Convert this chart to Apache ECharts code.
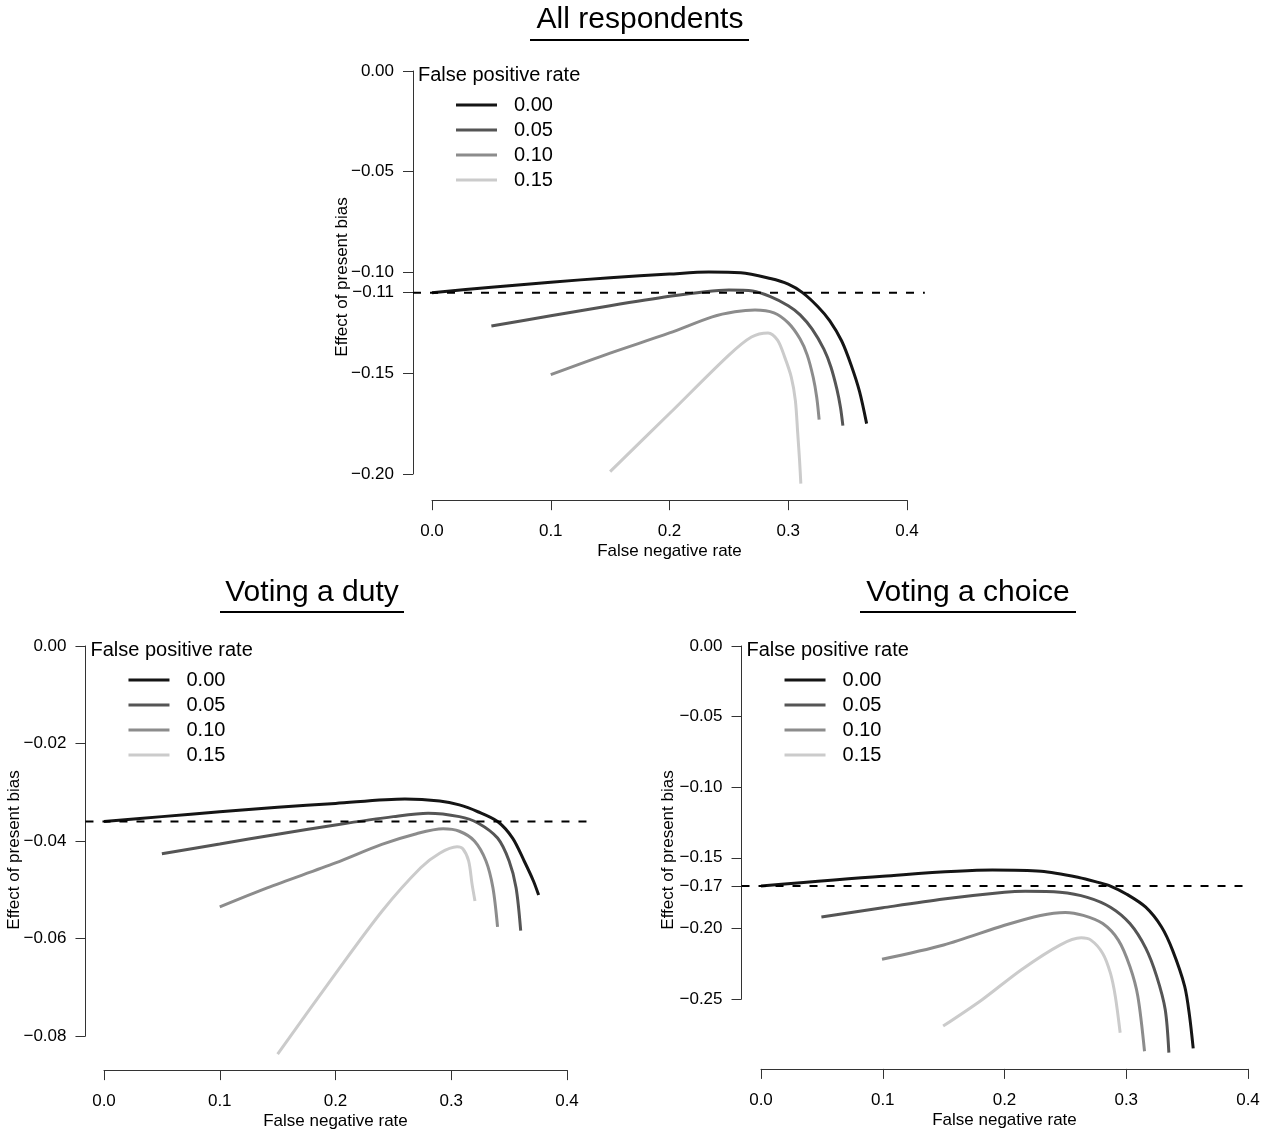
<!DOCTYPE html>
<html>
<head>
<meta charset="utf-8">
<script src="https://cdn.jsdelivr.net/npm/echarts@6/dist/echarts.min.js"></script>
<style>
  html, body { margin: 0; padding: 0; background: #fff; }
  #main { width: 1263px; height: 1133px; }
</style>
</head>
<body>
<div id="main"></div>
<script>
// legend levels (false positive rate)
var fpr = ['0.00', '0.05', '0.10', '0.15'];
var greys = ['#151515', '#555555', '#8c8c8c', '#cbcbcb'];

// --- All respondents ---
var allX0 = [0, 0.05, 0.10, 0.15, 0.20, 0.233, 0.26, 0.285, 0.30, 0.312, 0.325, 0.335, 0.345, 0.353, 0.36, 0.366];
var allY0 = [-0.110, -0.1073, -0.1048, -0.1026, -0.1008, -0.0998, -0.1001, -0.103, -0.1058, -0.110, -0.117, -0.124, -0.134, -0.146, -0.159, -0.175];
var allX1 = [0.05, 0.10, 0.15, 0.20, 0.23, 0.25, 0.27, 0.285, 0.30, 0.31, 0.32, 0.33, 0.336, 0.341, 0.344, 0.346];
var allY1 = [-0.1265, -0.1215, -0.1165, -0.1118, -0.1095, -0.1087, -0.1092, -0.112, -0.1165, -0.121, -0.128, -0.138, -0.147, -0.158, -0.167, -0.176];
var allX2 = [0.10, 0.15, 0.20, 0.236, 0.255, 0.272, 0.288, 0.30, 0.31, 0.316, 0.321, 0.324, 0.326];
var allY2 = [-0.1507, -0.140, -0.130, -0.122, -0.1195, -0.1186, -0.120, -0.125, -0.133, -0.141, -0.152, -0.162, -0.173];
var allX3 = [0.15, 0.20, 0.25, 0.269, 0.283, 0.291, 0.297, 0.3026, 0.306, 0.308, 0.3095, 0.3106];
var allY3 = [-0.1988, -0.170, -0.141, -0.132, -0.130, -0.1336, -0.142, -0.152, -0.1636, -0.180, -0.193, -0.2048];

// --- Voting a duty ---
var dutyX0 = [0, 0.05, 0.10, 0.15, 0.20, 0.26, 0.29, 0.307, 0.323, 0.34, 0.353, 0.363, 0.371, 0.3755];
var dutyY0 = [-0.036, -0.035, -0.034, -0.0331, -0.0323, -0.0314, -0.0318, -0.0326, -0.034, -0.036, -0.0394, -0.0441, -0.0482, -0.0511];
var dutyX1 = [0.05, 0.10, 0.15, 0.20, 0.25, 0.28, 0.307, 0.323, 0.34, 0.35, 0.356, 0.360];
var dutyY1 = [-0.0426, -0.0406, -0.0386, -0.0367, -0.0350, -0.0343, -0.035, -0.0363, -0.0394, -0.0441, -0.0496, -0.0584];
var dutyX2 = [0.10, 0.141, 0.20, 0.24, 0.27, 0.293, 0.307, 0.32, 0.33, 0.336, 0.340];
var dutyY2 = [-0.0535, -0.0496, -0.0445, -0.0407, -0.0385, -0.0375, -0.038, -0.040, -0.0441, -0.0496, -0.0576];
var dutyX3 = [0.15, 0.20, 0.2405, 0.2736, 0.29, 0.305, 0.31, 0.315, 0.318, 0.3205];
var dutyY3 = [-0.0837, -0.0672, -0.0543, -0.0455, -0.0425, -0.0412, -0.0416, -0.0441, -0.0489, -0.0523];

// --- Voting a choice ---
var choiceX0 = [0, 0.10, 0.19, 0.23, 0.261, 0.277, 0.287, 0.30, 0.316, 0.329, 0.338, 0.348, 0.352, 0.355];
var choiceY0 = [-0.170, -0.163, -0.1587, -0.1596, -0.1639, -0.1674, -0.170, -0.1756, -0.185, -0.199, -0.2154, -0.241, -0.262, -0.285];
var choiceX1 = [0.0496, 0.10, 0.15, 0.20, 0.217, 0.2455, 0.268, 0.287, 0.303, 0.316, 0.325, 0.332, 0.335];
var choiceY1 = [-0.192, -0.1854, -0.1792, -0.1744, -0.1737, -0.1744, -0.178, -0.185, -0.1966, -0.214, -0.234, -0.2575, -0.288];
var choiceX2 = [0.0994, 0.15, 0.20, 0.2295, 0.25, 0.2647, 0.2807, 0.2935, 0.303, 0.3095, 0.315];
var choiceY2 = [-0.2219, -0.2118, -0.1978, -0.1908, -0.1887, -0.1908, -0.1966, -0.2083, -0.227, -0.248, -0.287];
var choiceX3 = [0.1496, 0.1816, 0.2136, 0.2455, 0.263, 0.271, 0.2807, 0.287, 0.291, 0.295];
var choiceY3 = [-0.2692, -0.2505, -0.2294, -0.2118, -0.2067, -0.2083, -0.2177, -0.2317, -0.248, -0.2739];

// reference lines (estimate at zero false rates)
var baseY = [-0.11, -0.036, -0.17];
var baseX = [[-0.016, 0.415], [-0.016, 0.424], [-0.016, 0.4025]];

// tick labels
var allTicks = [0, -0.05, -0.10, -0.11, -0.15, -0.20];
var dutyTicks = [0, -0.02, -0.04, -0.06, -0.08];
var choiceTicks = [0, -0.05, -0.10, -0.15, -0.17, -0.20, -0.25];

var titles = ['All respondents', 'Voting a duty', 'Voting a choice'];

var FONT = '"Liberation Sans", Arial, Helvetica, sans-serif';

function pts(xs, ys) {
  return xs.map(function (x, i) { return [x, ys[i]]; });
}
function fmt(v, d) {
  if (Math.abs(v) < 1e-9) return (0).toFixed(d);
  return (v < 0 ? '\u2212' : '') + Math.abs(v).toFixed(d);
}

var chartDom = document.getElementById('main');
var myChart = echarts.init(chartDom);

// tick box (pixel rect of 0..0.4 x ymin..0) and the wider plotting range (usr) like base R
var panels = [
  { left: 432, top: 71, width: 475, height: 403, ymin: -0.20, yint: 0.05, yticks: allTicks,
    ux: [-0.016, 0.416], uy: [-0.2130, 0.0082],
    xs: [allX0, allX1, allX2, allX3], ys: [allY0, allY1, allY2, allY3] },
  { left: 104, top: 646, width: 463, height: 390, ymin: -0.08, yint: 0.02, yticks: dutyTicks,
    ux: [-0.016, 0.43], uy: [-0.0870, 0.0034],
    xs: [dutyX0, dutyX1, dutyX2, dutyX3], ys: [dutyY0, dutyY1, dutyY2, dutyY3] },
  { left: 761, top: 646, width: 487, height: 353, ymin: -0.25, yint: 0.05, yticks: choiceTicks,
    ux: [-0.016, 0.405], uy: [-0.2995, 0.0115],
    xs: [choiceX0, choiceX1, choiceX2, choiceX3], ys: [choiceY0, choiceY1, choiceY2, choiceY3] }
];

var grid = [], xAxis = [], yAxis = [], series = [], legend = [], graphic = [];

panels.forEach(function (p, k) {
  var kx = p.width / 0.4, ky = p.height / (0 - p.ymin);
  // data grid over the full plotting region, axes hidden
  var gl = p.left + p.ux[0] * kx;
  var gt = p.top - p.uy[1] * ky;
  var gw = (p.ux[1] - p.ux[0]) * kx;
  var gh = (p.uy[1] - p.uy[0]) * ky;
  var xoff = (gt + gh) - (p.top + p.height);
  var yoff = p.left - gl;
  var di = grid.length;
  grid.push({ left: gl, top: gt, width: gw, height: gh });
  xAxis.push({ type: 'value', gridIndex: di, min: p.ux[0], max: p.ux[1], show: false, splitLine: { show: false } });
  yAxis.push({ type: 'value', gridIndex: di, min: p.uy[0], max: p.uy[1], show: false, splitLine: { show: false } });

  // axis grid: lines only between first and last tick, set off from the data like R
  var ai = grid.length;
  grid.push({ left: p.left, top: p.top, width: p.width, height: p.height });
  xAxis.push({
    type: 'value', gridIndex: ai, min: 0, max: 0.4, interval: 0.1, offset: xoff,
    splitLine: { show: false },
    axisLine: { show: true, onZero: false, lineStyle: { color: '#333', width: 1 } },
    axisTick: { show: true, length: 10, lineStyle: { color: '#333' } },
    axisLabel: { color: '#000', fontSize: 17, fontFamily: FONT, margin: 23,
      formatter: function (v) { return v.toFixed(1); } },
    name: 'False negative rate', nameLocation: 'middle', nameGap: 43,
    nameTextStyle: { color: '#000', fontSize: 17, fontFamily: FONT }
  });
  yAxis.push({
    type: 'value', gridIndex: ai, min: p.ymin, max: 0, interval: p.yint, offset: yoff,
    splitLine: { show: false },
    axisLine: { show: true, onZero: false, lineStyle: { color: '#333', width: 1 } },
    axisTick: { show: true, length: 10, lineStyle: { color: '#333' }, customValues: p.yticks },
    axisLabel: { color: '#000', fontSize: 17, fontFamily: FONT, margin: 19, customValues: p.yticks,
      formatter: function (v) { return fmt(v, 2); } }
  });

  for (var i = 0; i < 4; i++) {
    series.push({
      name: fpr[i], type: 'line', xAxisIndex: di, yAxisIndex: di,
      data: pts(p.xs[i], p.ys[i]), symbol: 'none', smooth: 0.3,
      clip: false, silent: true,
      lineStyle: { color: greys[i], width: 3 }, itemStyle: { color: greys[i] }
    });
  }
  series.push({
    name: 'baseline', type: 'line', xAxisIndex: di, yAxisIndex: di,
    data: [[baseX[k][0], baseY[k]], [baseX[k][1], baseY[k]]],
    symbol: 'none', clip: false, silent: true, z: 3,
    lineStyle: { color: '#000', width: 2, type: [8, 9] }
  });

  var axisX = gl;
  legend.push({
    orient: 'vertical', left: axisX + 43, top: p.top + 24, padding: 0,
    icon: 'rect', itemWidth: 41, itemHeight: 3, itemGap: 5, selectedMode: false,
    data: fpr,
    textStyle: { color: '#000', fontSize: 20, fontFamily: FONT, lineHeight: 20, padding: [0, 0, 0, 12] }
  });
  graphic.push({
    type: 'text', left: axisX + 5, top: p.top - 6,
    style: { text: 'False positive rate', fontSize: 20, fontFamily: FONT, fill: '#000' }
  });
});

// panel titles with underline
var titlePos = [[640, 20, 530, 749, 40], [312, 593, 220, 404, 612], [968, 593, 860, 1076, 612]];
titlePos.forEach(function (t, k) {
  graphic.push({
    type: 'text', x: t[0], y: t[1],
    style: { text: titles[k], fontSize: 30, fontFamily: FONT, fill: '#000', align: 'center', verticalAlign: 'middle' }
  });
  graphic.push({
    type: 'line', shape: { x1: t[2], y1: t[4], x2: t[3], y2: t[4] },
    style: { stroke: '#000', lineWidth: 2 }
  });
});

// y-axis titles (centred on the full plot region, as in base R)
var yTitlePos = [[342, 277], [14, 850], [668, 850]];
yTitlePos.forEach(function (t) {
  graphic.push({
    type: 'text', x: t[0], y: t[1], rotation: Math.PI / 2,
    style: { text: 'Effect of present bias', fontSize: 17, fontFamily: FONT, fill: '#000', align: 'center', verticalAlign: 'middle' }
  });
});

var option = {
  backgroundColor: '#fff',
  animation: false,
  grid: grid,
  xAxis: xAxis,
  yAxis: yAxis,
  legend: legend,
  graphic: graphic,
  series: series
};

option && myChart.setOption(option);
</script>
</body>
</html>
